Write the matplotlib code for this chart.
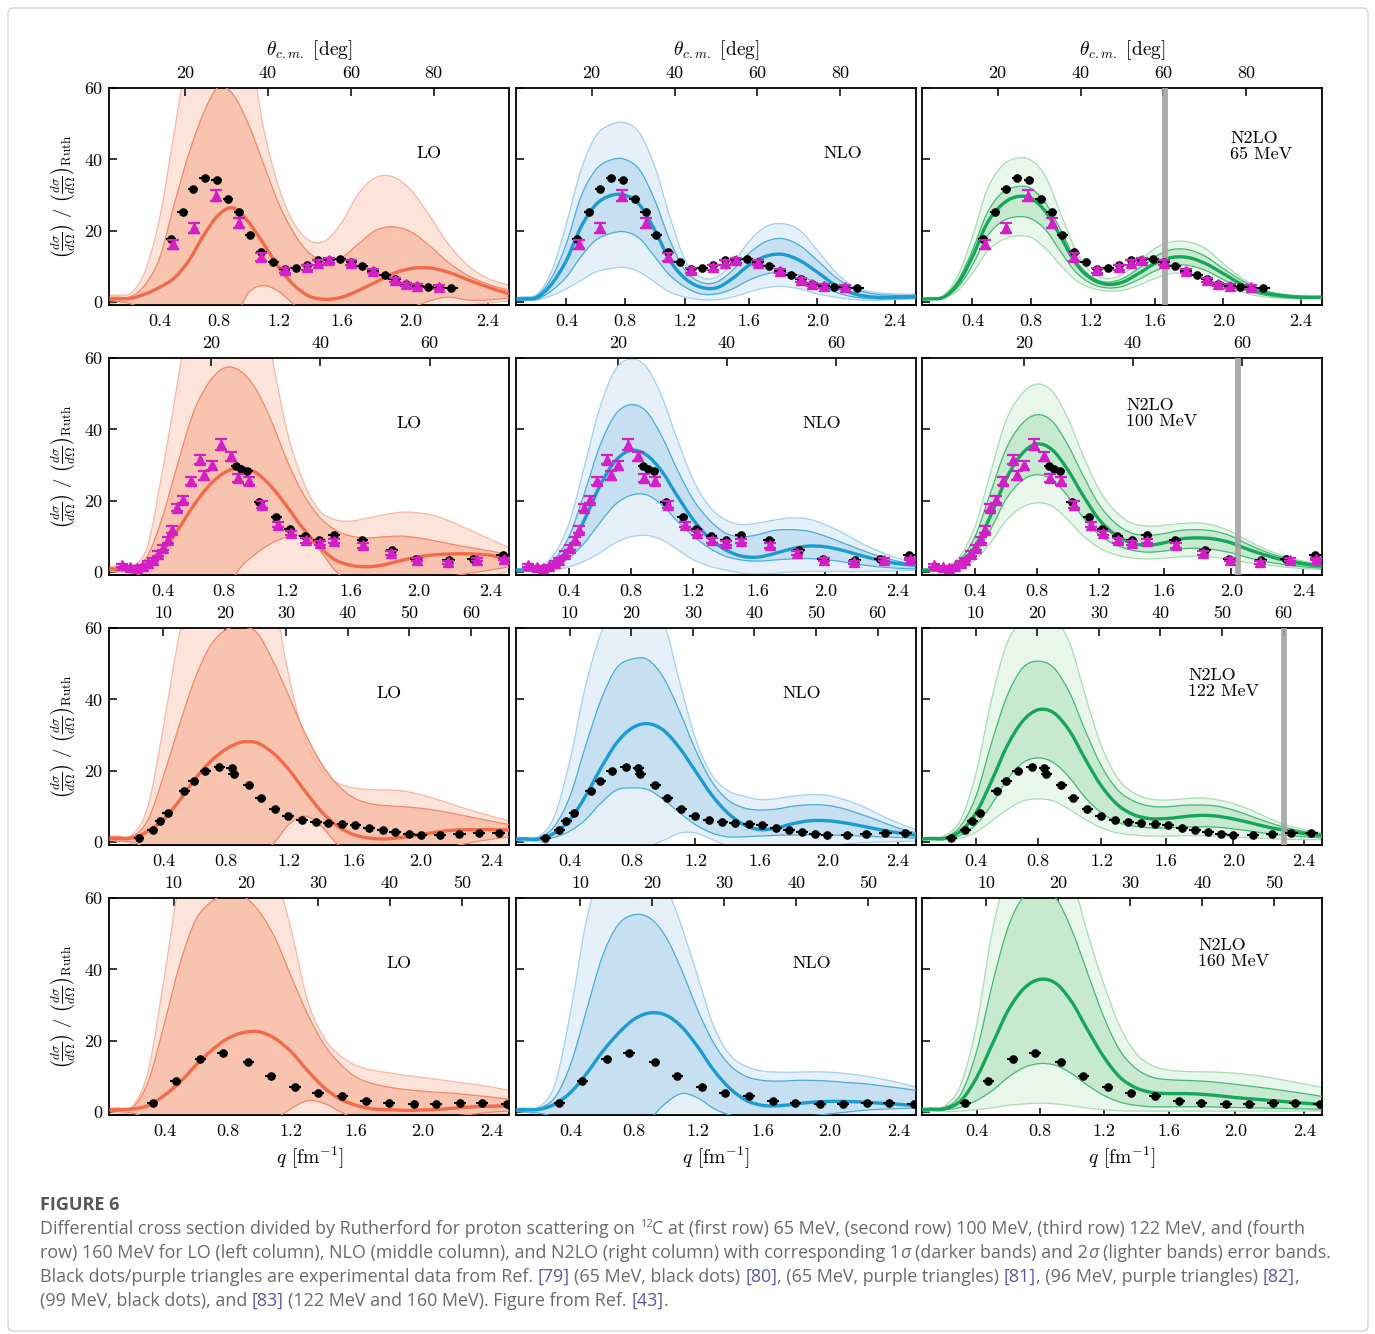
import numpy as np
import matplotlib
matplotlib.use("Agg")
import matplotlib.pyplot as plt
from matplotlib.path import Path
from matplotlib.patches import PathPatch, FancyBboxPatch

plt.rcParams["font.family"] = "cmr10"
plt.rcParams["mathtext.fontset"] = "cm"
plt.rcParams["axes.formatter.use_mathtext"] = True
plt.rcParams["axes.unicode_minus"] = False
plt.rcParams["axes.linewidth"] = 1.3

# momentum transfer grid (fm^-1) on which the theory bands are tabulated
Q_GRID = [0.05, 0.1, 0.2, 0.3, 0.4, 0.5, 0.6, 0.7, 0.8, 0.9, 1.0, 1.1, 1.2,
          1.3, 1.4, 1.5, 1.6, 1.7, 1.8, 1.9, 2.0, 2.1, 2.2, 2.3, 2.4, 2.5]

# each panel: [central, 1sigma low, 1sigma high, 2sigma low, 2sigma high]
LO_65 = [
    [0.9, 0.9, 1.1, 2.3, 4.2, 6.8, 11.7, 18.7, 24.4, 26.4, 22.5, 16.4, 9.8, 4.7, 1.6, 0.8, 1.4, 3.3, 5.6, 8.0, 9.4, 9.6, 8.4, 6.3, 4.2, 2.3],
    [0.4, 0.2, -0.5, -3, -8, -12, -15, -15, -12, -6, 2.5, 4.6, 3.0, -0.8, -5, -8, -9, -8, -6, -3, -1.5, 0.3, 1.4, 0.6, 0.6, 1.2],
    [1.4, 1.4, 1.6, 5.0, 12.6, 27.6, 41.7, 53.0, 60.2, 58.1, 50.0, 38.9, 27.6, 19.2, 13.6, 11.7, 12.6, 16.4, 20.1, 21.1, 19.7, 15.9, 11.2, 7.5, 5.0, 3.3],
    [-0.3, -0.8, -3, -10, -20, -30, -40, -45, -45, -40, -30, -20, -12, -10, -12, -15, -16, -15, -12, -8, -5, -3, -1.5, -0.8, -0.2, 0.3],
    [1.9, 2.0, 2.6, 8.9, 23.9, 48.0, 72.0, 90.0, 100.0, 95.0, 75.0, 49.0, 32.3, 22.0, 17.2, 17.3, 22.5, 30.5, 34.9, 35.1, 31.4, 24.4, 16.4, 10.3, 6.6, 4.7],
]
NLO_65 = [
    [0.9, 0.9, 1.4, 5.2, 11.7, 21.0, 27.2, 29.8, 30.0, 27.2, 20.2, 11.7, 6.6, 4.2, 4.0, 6.6, 10.3, 12.8, 13.4, 11.7, 8.4, 4.7, 2.3, 1.4, 1.4, 1.6],
    [0.7, 0.7, 0.9, 3.3, 7.0, 12.7, 17.3, 19.2, 19.7, 17.8, 12.7, 7.5, 4.2, 2.3, 2.3, 3.7, 6.1, 7.8, 8.4, 7.5, 5.2, 2.8, 1.4, 0.9, 0.9, 1.1],
    [1.1, 1.2, 1.9, 7.0, 16.4, 29.5, 37.0, 39.8, 40.0, 37.0, 28.6, 17.3, 8.9, 5.6, 5.6, 8.9, 13.6, 16.9, 17.8, 15.9, 11.7, 7.0, 3.7, 2.3, 1.9, 1.9],
    [0.5, 0.5, 0.6, 1.9, 3.7, 6.1, 8.4, 9.4, 9.7, 8.4, 5.6, 2.8, 1.4, 0.7, 0.7, 1.4, 2.8, 4.0, 4.4, 3.7, 2.3, 1.4, 0.7, 0.5, 0.7, 0.9],
    [1.4, 1.5, 2.3, 8.9, 22.0, 37.0, 46.4, 49.7, 50.3, 47.3, 38.0, 23.9, 11.7, 7.0, 7.0, 10.8, 16.9, 21.1, 22.0, 20.2, 14.5, 8.4, 4.2, 2.8, 2.3, 2.3],
]
N2LO_65 = [
    [0.9, 0.9, 1.4, 5.2, 12.7, 22.0, 27.2, 29.5, 29.1, 25.3, 18.3, 10.8, 6.6, 5.0, 5.6, 8.0, 10.8, 12.5, 12.5, 10.8, 8.0, 5.0, 2.8, 1.9, 1.4, 1.4],
    [0.8, 0.8, 1.2, 4.2, 10.3, 18.3, 22.5, 23.9, 23.4, 20.2, 14.1, 8.4, 5.2, 4.0, 4.4, 6.3, 8.7, 10.3, 10.3, 8.9, 6.3, 3.7, 2.2, 1.4, 1.1, 1.1],
    [1.0, 1.1, 1.6, 6.1, 14.5, 24.8, 30.5, 32.3, 31.9, 27.6, 20.2, 11.7, 7.2, 5.6, 6.6, 9.4, 12.7, 14.7, 14.7, 12.8, 9.4, 6.1, 3.5, 2.2, 1.6, 1.6],
    [0.7, 0.7, 1.0, 3.3, 8.0, 14.1, 17.3, 18.5, 18.1, 15.0, 10.3, 6.1, 4.0, 3.1, 3.3, 4.7, 6.6, 8.0, 8.0, 6.8, 4.7, 2.8, 1.6, 1.1, 0.9, 0.9],
    [1.1, 1.2, 1.9, 7.5, 18.3, 31.4, 38.0, 40.3, 39.8, 35.1, 24.8, 14.5, 8.4, 6.6, 7.8, 11.2, 15.0, 16.9, 16.9, 15.0, 10.8, 6.8, 3.7, 2.3, 1.8, 1.7],
]
LO_100 = [
    [0.9, 0.8, 0.7, 2.2, 5.9, 11.9, 18.5, 24.1, 27.8, 29.2, 28.0, 24.1, 18.5, 12.4, 7.3, 3.5, 1.9, 1.5, 2.1, 3.3, 4.3, 4.9, 5.1, 5.1, 4.7, 3.7],
    [0.6, 0.4, 0.0, -2, -5, -8, -10, -10, -6, 1.0, 5.0, 8.0, 9.8, 10.0, 6.5, 0.5, -3, -5, -5, -4, -3, -2, -1, -0.2, 0.6, 1.5],
    [1.2, 1.2, 1.2, 4.5, 15.7, 30.6, 44.6, 53.0, 57.2, 56.5, 51.6, 42.7, 31.5, 22.2, 15.7, 11.9, 10.1, 9.6, 9.9, 10.1, 9.6, 8.7, 7.7, 6.8, 5.9, 4.9],
    [0.3, 0.0, -0.5, -5, -12, -20, -28, -32, -30, -25, -18, -12, -8, -6, -6, -7, -8, -8, -8, -7, -6, -5, -4, -2.5, -1, 0.3],
    [1.5, 1.5, 1.7, 7.3, 28.7, 53.9, 80, 100, 110, 105, 85, 62, 39.9, 25.9, 17.5, 14.7, 14.3, 15.2, 16.1, 16.8, 16.6, 15.7, 13.8, 11.5, 9.1, 6.8],
]
NLO_100 = [
    [0.6, 0.6, 0.7, 2.6, 6.8, 14.7, 24.1, 31.1, 34.1, 32.9, 28.3, 21.3, 14.7, 9.6, 6.3, 4.5, 4.2, 5.2, 6.5, 7.3, 7.1, 6.1, 4.7, 3.4, 2.4, 1.9],
    [0.4, 0.4, 0.4, 1.5, 4.0, 8.2, 13.8, 18.9, 21.5, 21.7, 18.9, 14.3, 10.1, 6.8, 4.5, 3.4, 3.1, 3.4, 3.7, 3.8, 3.5, 2.9, 2.1, 1.5, 1.1, 0.9],
    [0.7, 0.8, 1.2, 3.5, 10.1, 22.2, 35.3, 44.1, 46.9, 45.1, 38.1, 28.7, 20.3, 14.7, 11.0, 9.9, 10.5, 11.7, 11.9, 11.5, 10.1, 8.2, 6.3, 4.5, 3.1, 2.1],
    [0.2, 0.2, 0.1, 0.6, 1.5, 3.1, 5.4, 8.2, 9.9, 10.3, 9.1, 6.3, 3.5, 1.7, 0.6, -0.3, -0.5, -0.3, 0.0, 0.2, 0.2, 0.2, 0.2, 0.3, 0.4, 0.5],
    [0.9, 1.0, 1.5, 4.9, 13.8, 29.7, 46.0, 56.7, 59.7, 57.6, 49.3, 37.1, 25.9, 18.5, 14.7, 13.3, 13.8, 14.6, 15.2, 14.9, 13.3, 11.0, 8.2, 5.9, 4.0, 2.6],
]
N2LO_100 = [
    [0.6, 0.6, 0.7, 2.6, 7.3, 15.7, 25.9, 32.9, 35.9, 34.3, 28.7, 21.3, 14.7, 10.5, 8.2, 7.5, 8.2, 9.3, 9.6, 9.3, 8.2, 6.3, 4.7, 3.3, 2.3, 1.7],
    [0.5, 0.5, 0.6, 1.9, 5.2, 11.9, 20.3, 25.5, 27.3, 25.9, 21.3, 15.2, 10.5, 7.7, 6.2, 5.6, 5.9, 6.5, 6.7, 6.3, 5.4, 4.0, 2.9, 2.1, 1.5, 1.1],
    [0.7, 0.8, 1.0, 3.5, 10.1, 22.2, 34.3, 41.3, 44.1, 42.3, 35.7, 26.9, 18.9, 13.8, 11.0, 10.3, 10.8, 11.7, 11.9, 11.5, 10.1, 7.7, 5.6, 4.0, 2.8, 2.1],
    [0.4, 0.4, 0.4, 1.2, 3.5, 8.2, 14.3, 18.0, 19.4, 18.5, 14.7, 10.1, 6.8, 4.9, 4.0, 3.7, 3.9, 4.3, 4.5, 4.2, 3.5, 2.6, 2.0, 1.4, 1.0, 0.7],
    [0.7, 0.9, 1.3, 4.5, 12.9, 27.8, 42.3, 49.7, 52.7, 50.7, 43.2, 32.5, 23.1, 17.1, 13.8, 12.9, 13.1, 13.6, 13.8, 13.1, 11.3, 8.7, 6.3, 4.5, 3.1, 2.3],
]
LO_122 = [
    [1.2, 1.0, 1.2, 3.1, 6.3, 11.5, 17.5, 22.5, 26.0, 28.0, 27.8, 25.0, 20.3, 14.3, 8.7, 4.5, 2.1, 1.1, 0.9, 1.4, 2.1, 2.9, 3.4, 3.5, 3.5, 3.4],
    [0.7, 0.3, 0.0, -2, -5, -8, -10, -10, -9, -7, -3, -0.5, 5.0, 7.3, 4.5, -0.5, -3, -4, -4, -3.5, -3, -2, -1, 0.0, 0.8, 1.5],
    [1.5, 1.5, 1.7, 6.3, 18.5, 32.5, 45.5, 54.9, 59.5, 60.3, 58.6, 50.7, 40.9, 30.6, 22.2, 16.1, 12.4, 10.8, 10.2, 9.9, 9.5, 8.8, 7.9, 6.9, 5.9, 4.9],
    [0.6, 0.3, -0.6, -4, -10, -18, -25, -30, -30, -27, -22, -16, -11, -8, -7, -7, -7, -7, -6, -5, -4, -3, -2, -1.5, -1, -0.5],
    [1.7, 1.7, 2.1, 10.1, 32.5, 57.6, 75, 90, 100, 100, 90, 70, 46.5, 28.7, 20.3, 16.6, 15.2, 14.7, 14.6, 14.3, 13.3, 11.9, 10.3, 8.7, 7.3, 5.9],
]
NLO_122 = [
    [0.9, 0.9, 0.9, 2.6, 6.3, 12.9, 20.8, 27.8, 32.0, 33.2, 31.3, 26.4, 19.9, 13.3, 8.2, 4.9, 3.5, 4.0, 5.2, 6.0, 6.0, 5.4, 4.5, 3.5, 2.6, 1.9],
    [0.7, 0.7, 0.6, 1.4, 3.1, 6.3, 11.0, 14.6, 15.2, 14.7, 11.9, 8.2, 4.9, 2.6, 1.5, 1.5, 1.7, 1.9, 2.0, 2.1, 2.0, 1.9, 1.7, 1.5, 1.3, 1.1],
    [1.1, 1.1, 1.3, 4.5, 12.9, 26.9, 39.9, 48.8, 51.3, 51.1, 46.0, 36.7, 25.9, 17.1, 11.9, 9.6, 9.0, 9.3, 10.1, 10.5, 10.3, 9.3, 7.7, 5.9, 4.0, 2.6],
    [0.6, 0.3, 0.0, -1, -3, -5, -6, -6, -5, -1.5, 0.5, 2.5, 2.6, 0.8, -1, -2, -2.5, -2.5, -2, -1.5, -1, -0.5, -0.2, 0.0, 0.2, 0.3],
    [1.3, 1.4, 1.7, 7.3, 23.1, 43.7, 58.6, 66, 70, 70, 62, 45, 29, 19, 14.5, 12.9, 11.9, 12.2, 12.9, 13.3, 13.1, 11.9, 10.1, 7.7, 5.4, 3.5],
]
N2LO_122 = [
    [0.9, 1.0, 1.1, 3.1, 8.2, 17.1, 26.9, 33.9, 37.1, 36.2, 31.1, 23.1, 15.7, 10.5, 7.7, 6.6, 6.6, 7.1, 7.5, 7.3, 6.5, 5.4, 4.2, 3.3, 2.4, 1.9],
    [0.7, 0.8, 0.8, 1.9, 4.9, 10.5, 17.5, 22.2, 23.6, 22.2, 18.0, 12.4, 8.2, 5.6, 4.5, 4.0, 4.0, 4.2, 4.3, 4.2, 3.7, 3.1, 2.4, 1.9, 1.5, 1.2],
    [1.1, 1.2, 1.4, 4.5, 12.9, 27.8, 40.9, 48.8, 50.7, 48.8, 41.8, 31.1, 21.3, 14.7, 11.5, 10.1, 9.9, 10.3, 10.4, 10.1, 9.0, 7.3, 5.6, 4.1, 3.0, 2.1],
    [0.6, 0.6, 0.6, 1.1, 2.8, 5.9, 9.1, 11.5, 12.1, 11.5, 9.1, 6.3, 4.0, 2.6, 2.0, 1.7, 1.7, 1.8, 1.8, 1.7, 1.5, 1.2, 1.0, 0.8, 0.7, 0.7],
    [1.3, 1.4, 1.9, 6.3, 19.4, 39.9, 55.8, 62.0, 64.0, 62.5, 55.8, 40.9, 26.9, 18.0, 13.8, 12.1, 11.8, 12.1, 12.4, 11.9, 10.8, 9.0, 6.8, 4.9, 3.5, 2.6],
]
LO_160 = [
    [0.7, 0.7, 0.9, 1.9, 4.7, 8.4, 13.1, 17.3, 20.6, 22.3, 22.5, 20.6, 16.9, 11.7, 7.0, 3.7, 1.9, 0.9, 0.7, 0.5, 0.6, 0.8, 1.2, 1.5, 1.7, 1.7],
    [0.5, 0.2, -0.3, -2, -5, -8, -10, -10, -9, -7, -5, -2, 1.0, 3.2, 2.5, 0.2, -2, -3, -3, -2.5, -2, -1.5, -1, -0.5, 0.0, 0.3],
    [0.9, 1.0, 1.4, 8.9, 24.8, 41.7, 53.9, 59.0, 61.0, 60.5, 56.2, 48.7, 38.0, 27.6, 19.2, 13.6, 9.8, 8.0, 7.0, 6.3, 5.9, 5.5, 5.2, 4.7, 4.2, 3.7],
    [0.2, -0.2, -1, -5, -12, -20, -28, -32, -32, -28, -22, -16, -11, -8, -6, -5, -4.5, -4, -3.5, -3, -2.5, -2, -1.5, -1, -0.6, -0.3],
    [1.1, 1.2, 1.9, 12.0, 38.0, 66.0, 85.0, 95.0, 100, 95, 85, 68, 51.1, 31.4, 21.1, 15.9, 13.1, 11.7, 11.0, 10.3, 9.7, 9.1, 8.4, 7.8, 7.0, 6.1],
]
NLO_160 = [
    [0.7, 0.7, 0.8, 2.3, 5.6, 10.8, 16.9, 22.0, 26.0, 27.8, 27.2, 23.9, 18.3, 11.7, 6.6, 3.3, 1.9, 1.8, 2.3, 2.8, 3.0, 3.0, 2.8, 2.5, 2.2, 1.8],
    [0.3, 0.1, -0.3, -1.5, -4, -6, -8, -8, -6, -2, 2.5, 5.2, 4.0, 1.0, -0.8, -1.5, -2, -2, -1.5, -1, -0.5, 0.0, 0.5, 0.8, 1.0, 1.1],
    [0.8, 0.9, 1.2, 4.2, 13.6, 28.6, 43.6, 52.5, 55.3, 54.4, 49.2, 39.8, 28.6, 19.3, 13.1, 10.0, 8.9, 8.7, 8.9, 8.9, 8.7, 8.3, 8.0, 7.4, 6.8, 6.1],
    [0.2, 0.0, -1, -4, -10, -16, -20, -22, -20, -16, -12, -8, -6, -5, -5, -5, -5, -4.5, -4, -3.5, -3, -2.5, -2, -1.5, -1, -0.5],
    [1.0, 1.1, 1.6, 8.0, 28.6, 53.9, 70, 88, 95, 85, 65, 52, 38, 24, 16, 12.8, 11.5, 11.2, 11.2, 11.3, 11.2, 10.8, 10.2, 9.3, 8.3, 7.0],
]
N2LO_160 = [
    [0.7, 0.8, 1.0, 3.3, 9.8, 19.2, 28.6, 34.7, 37.2, 36.1, 30.9, 23.0, 15.5, 9.8, 6.8, 5.5, 5.2, 5.2, 5.0, 4.6, 4.1, 3.7, 3.3, 2.9, 2.5, 2.2],
    [0.6, 0.6, 0.7, 1.4, 3.3, 6.1, 9.8, 12.5, 13.6, 13.1, 10.8, 7.5, 4.7, 2.8, 1.9, 1.5, 1.5, 1.5, 1.5, 1.4, 1.3, 1.2, 1.1, 1.0, 0.9, 0.8],
    [0.8, 1.0, 1.4, 5.2, 17.3, 36.1, 52.0, 60.5, 62.0, 60.0, 51.1, 38.9, 26.7, 17.3, 12.2, 9.8, 9.1, 8.9, 8.7, 8.3, 7.8, 7.2, 6.6, 5.9, 5.2, 4.4],
    [0.3, 0.3, 0.1, 0.3, 0.7, 1.2, 1.9, 2.3, 2.5, 2.3, 1.8, 1.1, 0.7, 0.4, 0.3, 0.3, 0.3, 0.3, 0.3, 0.3, 0.3, 0.3, 0.3, 0.3, 0.3, 0.3],
    [1.0, 1.2, 1.9, 8.0, 24.8, 51.1, 68, 78, 82, 78, 66, 50, 36, 24, 16.5, 13.0, 11.8, 11.4, 11.3, 11.2, 10.9, 10.4, 9.7, 8.8, 7.9, 6.9],
]

# experimental data: black dots (q, ratio) and purple triangles (q, ratio, error)
Q65_DOT = [0.474, 0.556, 0.629, 0.706, 0.788, 0.866, 0.940, 1.011, 1.087, 1.164, 1.240, 1.311, 1.379,
           1.451, 1.518, 1.589, 1.656, 1.721, 1.785, 1.852, 1.909, 1.971, 2.035, 2.093, 2.152, 2.214]
Y65_DOT = [17.6, 25.2, 31.8, 34.9, 34.1, 28.8, 25.2, 18.8, 14.1, 11.2, 9.4, 9.7, 10.3,
           11.7, 11.9, 12.1, 11.2, 10.1, 8.7, 7.7, 6.4, 5.0, 4.4, 4.2, 4.1, 3.9]
Q65_TRI = [0.487, 0.634, 0.783, 0.940, 1.087, 1.240, 1.379, 1.451, 1.522, 1.656, 1.785, 1.909, 1.971, 2.035, 2.152]
Y65_TRI = [16.2, 20.9, 29.8, 22.2, 12.7, 8.9, 9.8, 11.1, 11.7, 11.1, 8.7, 6.3, 5.0, 4.5, 4.2]
E65_TRI = [1.3, 1.4, 1.6, 1.5, 1.2, 0.8, 0.7, 0.7, 0.7, 0.7, 0.6, 0.6, 0.5, 0.5, 0.5]

Q100_DOT = [0.880, 0.912, 0.949, 1.025, 1.135, 1.220, 1.313, 1.402, 1.495, 1.667, 1.845, 1.985, 2.170, 2.307, 2.465]
Y100_DOT = [29.7, 28.9, 28.3, 19.7, 15.5, 12.1, 10.1, 9.1, 10.3, 9.0, 6.2, 3.8, 3.4, 3.8, 4.8]
Q100_TRI = [0.130, 0.186, 0.230, 0.269, 0.306, 0.335, 0.372, 0.405, 0.437, 0.463, 0.496, 0.535, 0.585, 0.644,
            0.672, 0.720, 0.780, 0.845, 0.888, 0.960, 1.041, 1.147, 1.227, 1.320, 1.408, 1.496, 1.672, 1.836,
            1.992, 2.166, 2.328, 2.471]
Y100_TRI = [1.9, 1.4, 1.2, 1.7, 2.6, 3.5, 5.2, 6.8, 9.1, 11.9, 18.0, 20.3, 25.5, 31.5,
            27.1, 29.9, 35.7, 32.5, 26.4, 25.5, 18.9, 13.3, 11.0, 8.9, 8.2, 8.7, 7.5, 5.4,
            3.5, 2.8, 3.5, 3.7]
E100_TRI = [0.5, 0.4, 0.4, 0.4, 0.5, 0.5, 0.6, 0.7, 0.8, 0.9, 1.0, 1.0, 1.2, 1.3,
            1.2, 1.2, 1.5, 1.3, 1.1, 1.1, 0.9, 0.7, 0.6, 0.6, 0.6, 0.6, 0.6, 0.5,
            0.4, 0.4, 0.4, 0.4]

Q122_DOT = [0.241, 0.330, 0.377, 0.426, 0.533, 0.594, 0.668, 0.758, 0.839, 0.852, 0.945, 1.023, 1.111, 1.194,
            1.282, 1.368, 1.444, 1.530, 1.610, 1.694, 1.774, 1.850, 1.928, 1.998, 2.113, 2.222, 2.332, 2.441]
Y122_DOT = [1.1, 3.5, 5.9, 8.2, 14.3, 17.2, 19.9, 21.0, 20.8, 19.2, 16.0, 12.4, 9.3, 7.2,
            6.1, 5.6, 5.4, 5.2, 4.7, 4.1, 3.4, 2.8, 2.3, 1.9, 2.1, 2.3, 2.6, 2.6]

Q160_DOT = [0.325, 0.471, 0.628, 0.769, 0.931, 1.072, 1.224, 1.366, 1.515, 1.661, 1.798, 1.945, 2.078, 2.218, 2.345, 2.486]
Y160_DOT = [2.6, 8.8, 15.0, 16.7, 14.1, 10.1, 7.0, 5.5, 4.4, 3.2, 2.5, 2.2, 2.2, 2.5, 2.6, 2.4]

ENERGIES = [65, 100, 122, 160]
ORDERS = ["LO", "NLO", "N2LO"]
BANDS = [
    [LO_65, NLO_65, N2LO_65],
    [LO_100, NLO_100, N2LO_100],
    [LO_122, NLO_122, N2LO_122],
    [LO_160, NLO_160, N2LO_160],
]
DOTS = [(Q65_DOT, Y65_DOT), (Q100_DOT, Y100_DOT), (Q122_DOT, Y122_DOT), (Q160_DOT, Y160_DOT)]
TRIANGLES = [(Q65_TRI, Y65_TRI, E65_TRI), (Q100_TRI, Y100_TRI, E100_TRI), None, None]
THETA_TICKS = [[20, 40, 60, 80], [20, 40, 60], [10, 20, 30, 40, 50, 60], [10, 20, 30, 40, 50]]
Q_TICKS = [0.4, 0.8, 1.2, 1.6, 2.0, 2.4]
CUTOFF_THETA = [60.4, 59.2, 60.0, None]
DQ = 0.035
DOT_YERR = 0.5

STYLE = {
    "LO": dict(line="#f26a49", dark="#f9c4af", light="#fde4db", edge1="#f3866a", edge2="#f8b7a2"),
    "NLO": dict(line="#1a9bd1", dark="#c6dff1", light="#e5f0f9", edge1="#4aacdb", edge2="#a2d0ed"),
    "N2LO": dict(line="#15a65a", dark="#c7e9cf", light="#e8f6eb", edge1="#45b872", edge2="#a8dcb4"),
}
LABEL_POS = [
    [(0.80, 0.70), (0.8175, 0.70), (0.77, 0.73)],
    [(0.75, 0.70), (0.765, 0.70), (0.51, 0.743)],
    [(0.70, 0.70), (0.715, 0.70), (0.665, 0.743)],
    [(0.725, 0.70), (0.74, 0.70), (0.69, 0.743)],
]

M_P, M_C12, HBARC = 938.272, 11174.86, 197.327


def two_k(t_lab):
    p_lab = np.sqrt(t_lab ** 2 + 2 * t_lab * M_P)
    s = M_P ** 2 + M_C12 ** 2 + 2 * (t_lab + M_P) * M_C12
    return 2 * p_lab * M_C12 / np.sqrt(s) / HBARC


def theta_of_q(q, k2):
    return np.degrees(2 * np.arcsin(np.clip(np.asarray(q, float) / k2, -1, 1)))


def q_of_theta(t, k2):
    return k2 * np.sin(np.radians(np.asarray(t, float)) / 2)


def bezier(x, y):
    p = np.column_stack([x, y])
    ext = np.vstack([p[:1], p, p[-1:]])
    out = [p[0]]
    for i in range(len(p) - 1):
        a, b, c, d = ext[i], ext[i + 1], ext[i + 2], ext[i + 3]
        out += [b + (c - a) / 6, c - (d - b) / 6, c]
    return np.array(out)


def curve_path(x, y):
    v = bezier(x, y)
    return Path(v, [Path.MOVETO] + [Path.CURVE4] * (len(v) - 1))


def band_path(x, lo, hi):
    up = bezier(x, hi)
    dn = bezier(x[::-1], lo[::-1])
    v = np.vstack([up, dn, up[:1]])
    codes = ([Path.MOVETO] + [Path.CURVE4] * (len(up) - 1) + [Path.LINETO]
             + [Path.CURVE4] * (len(dn) - 1) + [Path.CLOSEPOLY])
    return Path(v, codes)


W, H = 1375, 1334
COL_LEFT = [109.5, 516, 922]
ROW_TOP = [88, 358, 628, 898]
PW, PH = 400, 217

fig = plt.figure(figsize=(W / 100, H / 100), dpi=100)
fig.patch.set_facecolor("white")

q_grid = np.array(Q_GRID)
for r, energy in enumerate(ENERGIES):
    k2 = two_k(energy)
    th = theta_of_q(q_grid, k2)
    for c, order in enumerate(ORDERS):
        ax = fig.add_axes([COL_LEFT[c] / W, 1 - (ROW_TOP[r] + PH) / H, PW / W, PH / H])
        mid, lo1, hi1, lo2, hi2 = (np.array(v, float) for v in BANDS[r][c])
        st = STYLE[order]
        ax.add_patch(PathPatch(band_path(th, lo2, hi2), fc=st["light"], ec="none", zorder=1))
        ax.add_patch(PathPatch(band_path(th, lo1, hi1), fc=st["dark"], ec="none", zorder=2))
        for arr in (lo2, hi2):
            ax.add_patch(PathPatch(curve_path(th, arr), fill=False, ec=st["edge2"], lw=0.9, zorder=2.5))
        for arr in (lo1, hi1):
            ax.add_patch(PathPatch(curve_path(th, arr), fill=False, ec=st["edge1"], lw=0.9, zorder=2.6))
        ax.add_patch(PathPatch(curve_path(th, mid), fill=False, ec=st["line"], lw=2.4, zorder=3))

        if CUTOFF_THETA[r] is not None and c == 2:
            ax.axvline(CUTOFF_THETA[r], color="#a3a3a3", lw=4.2, alpha=0.9, zorder=4)

        qd, yd = (np.array(v, float) for v in DOTS[r])
        td = theta_of_q(qd, k2)
        xerr = [td - theta_of_q(qd - DQ, k2), theta_of_q(qd + DQ, k2) - td]
        ax.errorbar(td, yd, xerr=xerr, yerr=DOT_YERR, fmt="o", ms=5.2, color="black",
                    elinewidth=1.5, capsize=0, zorder=5)
        if TRIANGLES[r] is not None:
            qt, yt, et = (np.array(v, float) for v in TRIANGLES[r])
            ax.errorbar(theta_of_q(qt, k2), yt, yerr=et, fmt="^", ms=7.5, color="#d41fc6",
                        elinewidth=1.4, capsize=4.5, capthick=1.6, zorder=6)

        ax.set_xlim(theta_of_q(q_grid[0], k2), theta_of_q(q_grid[-1], k2))
        ax.set_ylim(-0.8, 60)
        ax.xaxis.tick_top()
        ax.set_xticks(THETA_TICKS[r])
        ax.set_xticklabels([str(t) for t in THETA_TICKS[r]])
        ax.tick_params(axis="x", direction="in", length=6, width=1.1, labelsize=13, pad=5)
        ax.set_yticks([0, 20, 40, 60])
        ax.set_yticklabels(["0", "20", "40", "60"])
        ax.tick_params(axis="y", direction="in", length=6, width=1.1, labelsize=13, pad=5,
                       labelleft=(c == 0))

        sec = ax.secondary_xaxis("bottom", functions=(lambda t, k=k2: q_of_theta(t, k),
                                                      lambda q, k=k2: theta_of_q(q, k)))
        sec.set_xticks(Q_TICKS)
        sec.set_xticklabels([f"{v:.1f}" for v in Q_TICKS])
        sec.tick_params(direction="in", length=5, width=1.1, labelsize=13, pad=6)
        sec.spines["bottom"].set_linewidth(1.3)

        lx, ly = LABEL_POS[r][c]
        if order == "N2LO":
            ax.text(lx, ly, f"N2LO\n{energy} MeV", transform=ax.transAxes, ha="left", va="center",
                    fontsize=13, linespacing=1.05, zorder=7)
        else:
            ax.text(lx, ly, order, transform=ax.transAxes, ha="center", va="center",
                    fontsize=13, zorder=7)

ylabel = r"$\left(\frac{d\sigma}{d\Omega}\right)\ /\ \left(\frac{d\sigma}{d\Omega}\right)_{\mathrm{Ruth}}$"
for r in range(4):
    yc = ROW_TOP[r] + PH / 2
    fig.text(64 / W, 1 - yc / H, ylabel, rotation=90, ha="center", va="center", fontsize=13.5)
for c in range(3):
    xc = COL_LEFT[c] + PW / 2
    fig.text(xc / W, 1 - 50 / H, r"$\theta_{c.m.}$ [deg]", ha="center", va="center", fontsize=14)
    fig.text(xc / W, 1 - 1158 / H, r"$q$ [fm$^{-1}$]", ha="center", va="center", fontsize=14)

# caption block
CAP_FONT = "Open Sans"
CAP_COLOR = "#6a6a6a"
REF_COLOR = "#5656a8"
CAPTION = [
    [("Differential cross section divided by Rutherford for proton scattering on ", "t"), ("12", "sup"),
     ("C at (first row) 65 MeV, (second row) 100 MeV, (third row) 122 MeV, and (fourth", "t")],
    [("row) 160 MeV for LO (left column), NLO (middle column), and N2LO (right column) with corresponding 1", "t"),
     ("σ", "it"), (" (darker bands) and 2", "t"), ("σ", "it"), (" (lighter bands) error bands.", "t")],
    [("Black dots/purple triangles are experimental data from Ref. ", "t"), ("[79]", "ref"),
     (" (65 MeV, black dots) ", "t"), ("[80]", "ref"), (", (65 MeV, purple triangles) ", "t"), ("[81]", "ref"),
     (", (96 MeV, purple triangles) ", "t"), ("[82]", "ref"), (",", "t")],
    [("(99 MeV, black dots), and ", "t"), ("[83]", "ref"), (" (122 MeV and 160 MeV). Figure from Ref. ", "t"),
     ("[43]", "ref"), (".", "t")],
]
CAP_LINE_Y = [1229, 1253, 1277, 1301]
CAP_LEFT, CAP_RIGHT = 40, 1338

renderer = fig.canvas.get_renderer()


def text_width(s, **kw):
    t = fig.text(0, 0, s, **kw)
    w = t.get_window_extent(renderer).width
    t.remove()
    return w


# size the caption so the second (longest) line spans the text block
line2 = "".join(s for s, _ in CAPTION[1])
cap_size = 11.5 * (CAP_RIGHT - CAP_LEFT) / text_width(line2, family=CAP_FONT, size=11.5)
space_w = (text_width("a a", family=CAP_FONT, size=cap_size)
           - text_width("aa", family=CAP_FONT, size=cap_size))

fig.text(CAP_LEFT / W, 1 - 1205 / H, "FIGURE 6", family=CAP_FONT, size=13, weight="bold",
         color="#555555", ha="left", va="center")
for y_px, parts in zip(CAP_LINE_Y, CAPTION):
    x = float(CAP_LEFT)
    for s, kind in parts:
        lead = len(s) - len(s.lstrip(" "))
        trail = len(s) - len(s.rstrip(" "))
        x += lead * space_w
        kw = dict(family=CAP_FONT, size=cap_size, color=CAP_COLOR, ha="left", va="baseline")
        yb = y_px + 5
        if kind == "ref":
            kw["color"] = REF_COLOR
        elif kind == "it":
            kw["style"] = "italic"
        elif kind == "sup":
            kw["size"] = cap_size * 0.62
            yb -= 7
        t = fig.text(x / W, 1 - yb / H, s.strip(" "), **kw)
        x = t.get_window_extent(renderer).x1 + trail * space_w

fig.patches.append(FancyBboxPatch((8 / W, 1 - 1331 / H), 1360 / W, 1323 / H,
                                  boxstyle="round,pad=0,rounding_size=0.004",
                                  transform=fig.transFigure, fc="none", ec="#d6d6d6", lw=1.0))

fig.savefig("out.png", dpi=100)
